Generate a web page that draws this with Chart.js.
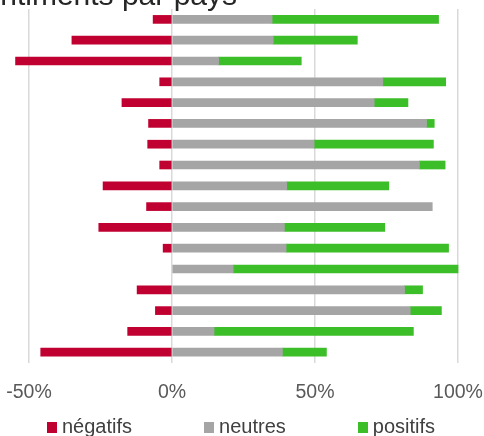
<!DOCTYPE html>
<html lang="fr">
<head>
<meta charset="utf-8">
<title>Sentiments par pays</title>
<script src="https://cdn.jsdelivr.net/npm/chart.js@4/dist/chart.umd.min.js"></script>
<style>
    html, body { margin: 0; padding: 0; background: #fff; }
    .wrap { position: relative; width: 484px; height: 436px; overflow: hidden; }
    .legend {
        position: absolute; left: 47px; top: 416px;
        display: flex; gap: 72px;
        font: 20px "Liberation Sans", Arial, sans-serif; line-height: 20px; color: #404040;
    }
    .legend span.item { display: flex; align-items: flex-start; white-space: nowrap; }
    .legend i { display: inline-block; width: 10px; height: 11px; margin: 6px 5px 0 0; }
</style>
</head>
<body>
<div class="wrap">
    <canvas id="sentimentChart"></canvas>
    <div class="legend" id="legend"></div>
</div>
<script>
// Data (percent); null = no bar
const countries = ['Pays 1', 'Pays 2', 'Pays 3', 'Pays 4', 'Pays 5', 'Pays 6', 'Pays 7', 'Pays 8', 'Pays 9',
    'Pays 10', 'Pays 11', 'Pays 12', 'Pays 13', 'Pays 14', 'Pays 15', 'Pays 16', 'Pays 17'];
const negatifs = [-6.6, -35, -54.7, -4.3, -17.5, -8.2, -8.5, -4.3, -24.1, -8.9, -25.6, -3.1, null, -12.2, -5.8, -15.5, -45.9];
const neutres = [35, 35.4, 16.3, 73.7, 70.7, 89, 49.7, 86.5, 40.1, 91, 39.3, 39.9, 21.4, 81.3, 83.3, 14.7, 38.6];
const positifs = [58.2, 29.4, 28.9, 22, 11.8, 2.7, 41.7, 9, 35.7, null, 35.1, 56.8, 78.6, 6.3, 10.9, 69.7, 15.4];
const xTicks = [-50, 0, 50, 100];

const seriesNames = ['négatifs', 'neutres', 'positifs'];
const seriesColors = ['#c00030', '#a5a5a5', '#3cbe28'];

const fontFamily = '"Liberation Sans", Arial, sans-serif';

// Title is partly outside the canvas at the top, as in the picture
const titlePlugin = {
    id: 'cutTitle',
    afterDraw(chart) {
        const ctx = chart.ctx;
        ctx.save();
        ctx.font = '30px ' + fontFamily;
        ctx.fillStyle = '#262626';
        ctx.textAlign = 'right';
        ctx.textBaseline = 'alphabetic';
        ctx.fillText('Sentiments par pays', 237, 5);
        ctx.restore();
    }
};

const ctx = document.getElementById('sentimentChart');
const chart = new Chart(ctx.getContext('2d'), {
    type: 'bar',
    data: {
        labels: countries,
        datasets: [negatifs, neutres, positifs].map((values, i) => ({
            label: seriesNames[i],
            data: values,
            backgroundColor: seriesColors[i],
            borderWidth: 0,
            barThickness: 8,
            clip: false
        }))
    },
    options: {
        indexAxis: 'y',
        responsive: true,
        maintainAspectRatio: false,
        animation: false,
        layout: {
            padding: { left: 29, right: 26, top: 9, bottom: 14 }
        },
        plugins: {
            legend: { display: false },
            tooltip: { enabled: false }
        },
        scales: {
            x: {
                stacked: true,
                min: -50,
                max: 100,
                afterBuildTicks(axis) {
                    axis.ticks = xTicks.map(v => ({ value: v }));
                },
                // keep the edge labels from pushing the plot area inwards
                afterFit(axis) {
                    axis.paddingLeft = 0;
                    axis.paddingRight = 0;
                },
                grid: {
                    color: '#d9d9d9',
                    lineWidth: 1.5,
                    drawTicks: false
                },
                border: { display: false },
                ticks: {
                    padding: 18,
                    color: '#595959',
                    font: { family: fontFamily, size: 19.5 },
                    maxRotation: 0,
                    callback: value => value + '%'
                }
            },
            y: {
                stacked: true,
                display: false
            }
        }
    },
    plugins: [titlePlugin]
});

// Legend as page text
const legend = document.getElementById('legend');
chart.data.datasets.forEach(ds => {
    const item = document.createElement('span');
    item.className = 'item';
    const box = document.createElement('i');
    box.style.background = ds.backgroundColor;
    item.appendChild(box);
    item.appendChild(document.createTextNode(ds.label));
    legend.appendChild(item);
});
</script>
</body>
</html>
